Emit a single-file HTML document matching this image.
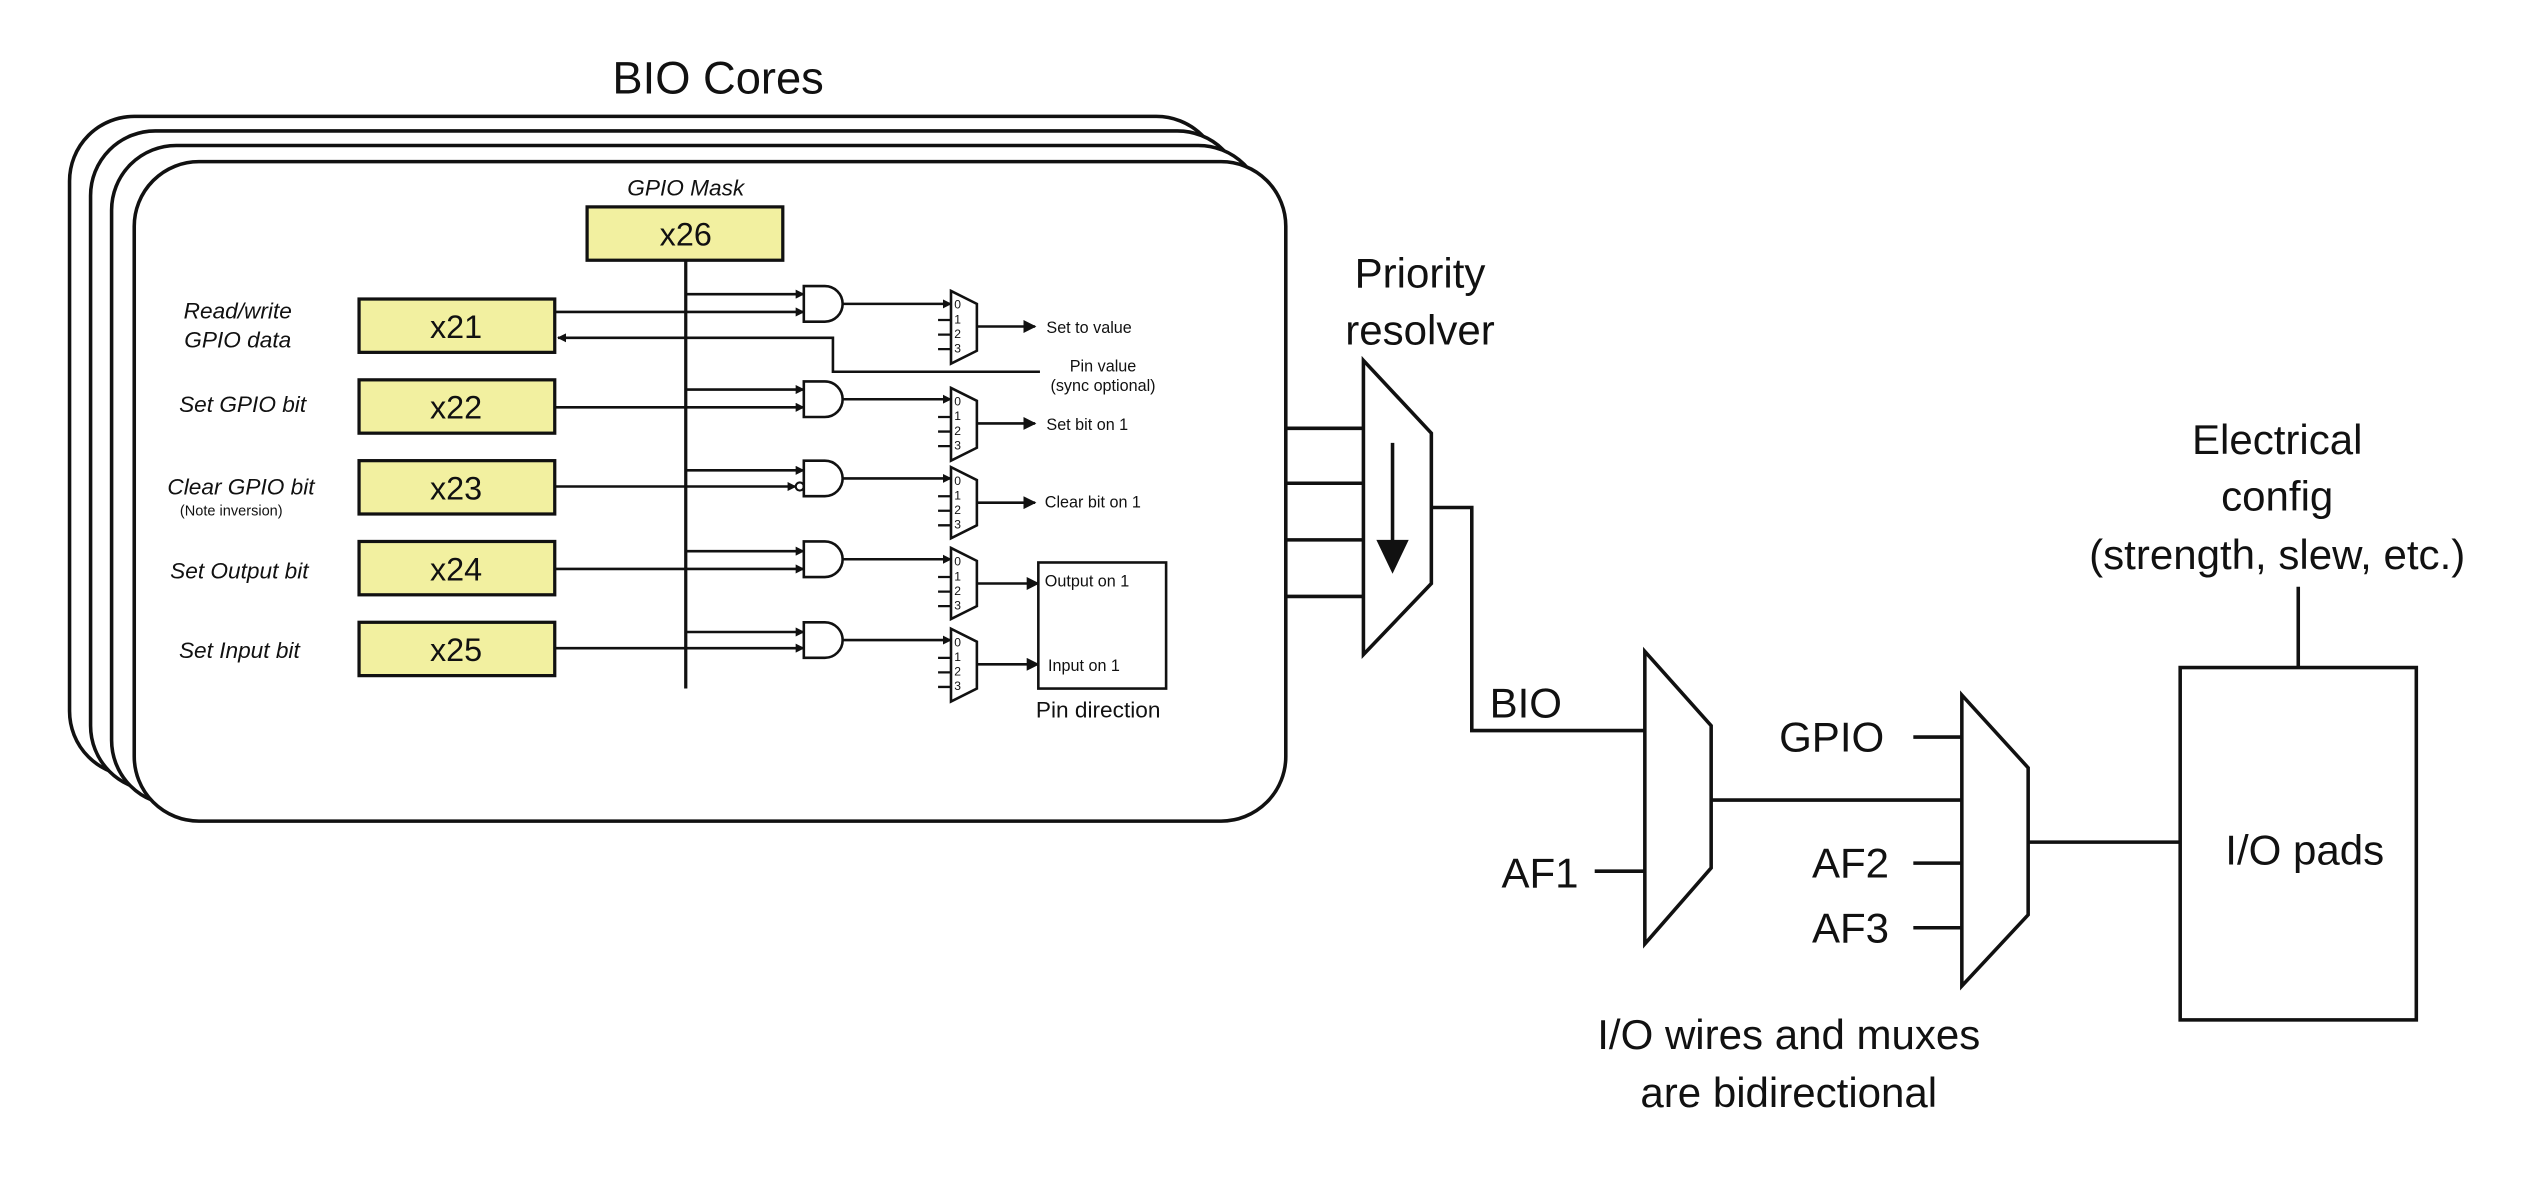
<!DOCTYPE html>
<html><head><meta charset="utf-8"><style>
html,body{margin:0;padding:0;background:#fff;}
svg{display:block;}
text{font-family:"Liberation Sans",sans-serif;fill:#111;}
.it{font-style:italic;}
</style></head><body>
<svg width="2536" height="1188" viewBox="0 0 1568 735" preserveAspectRatio="none">
<defs>
<marker id="a" viewBox="0 0 10 10" refX="9" refY="5" markerWidth="5" markerHeight="5" orient="auto"><path d="M0,0 L10,5 L0,10 z" fill="#111"/></marker>
<marker id="s" viewBox="0 0 10 10" refX="9" refY="5" markerWidth="3.5" markerHeight="3.5" orient="auto"><path d="M0,0 L10,5 L0,10 z" fill="#111"/></marker>
</defs>
<g fill="#fff" stroke="#111" stroke-width="2.2">
<rect x="43" y="72" width="712" height="408" rx="40"/>
<rect x="56" y="81" width="712" height="408" rx="40"/>
<rect x="69" y="90" width="712" height="408" rx="40"/>
<rect x="83" y="100" width="712" height="408" rx="40"/>
</g>
<text x="444" y="58" font-size="28" text-anchor="middle">BIO Cores</text>
<text x="424" y="121" font-size="14" class="it" text-anchor="middle">GPIO Mask</text>
<g fill="#f2f0a0" stroke="#111" stroke-width="2">
<rect x="363" y="128" width="121" height="33"/>
<rect x="222" y="185" width="121" height="33"/>
<rect x="222" y="235" width="121" height="33"/>
<rect x="222" y="285" width="121" height="33"/>
<rect x="222" y="335" width="121" height="33"/>
<rect x="222" y="385" width="121" height="33"/>
</g>
<g font-size="20" text-anchor="middle">
<text x="424" y="152">x26</text>
<text x="282" y="209">x21</text>
<text x="282" y="259">x22</text>
<text x="282" y="309">x23</text>
<text x="282" y="359">x24</text>
<text x="282" y="409">x25</text>
</g>
<g font-size="14" class="it" text-anchor="middle">
<text x="147" y="197">Read/write</text>
<text x="147" y="215">GPIO data</text>
<text x="150" y="255">Set GPIO bit</text>
<text x="149" y="306">Clear GPIO bit</text>
<text x="148" y="358">Set Output bit</text>
<text x="148" y="407">Set Input bit</text>
</g>
<text x="143" y="319" font-size="9" text-anchor="middle">(Note inversion)</text>
<line x1="424" y1="161" x2="424" y2="426" stroke="#111" stroke-width="2"/>
<g stroke="#111" stroke-width="1.6" fill="none">
<!-- row lines -->
<line x1="424" y1="182" x2="497" y2="182" marker-end="url(#s)"/>
<line x1="343" y1="193" x2="497" y2="193" marker-end="url(#s)"/>
<polyline points="643,230 515,230 515,209 345,209" marker-end="url(#s)"/>
<line x1="424" y1="241" x2="497" y2="241" marker-end="url(#s)"/>
<line x1="343" y1="252" x2="497" y2="252" marker-end="url(#s)"/>
<line x1="424" y1="291" x2="497" y2="291" marker-end="url(#s)"/>
<line x1="343" y1="301" x2="492" y2="301" marker-end="url(#s)"/>
<line x1="424" y1="341" x2="497" y2="341" marker-end="url(#s)"/>
<line x1="343" y1="352" x2="497" y2="352" marker-end="url(#s)"/>
<line x1="424" y1="391" x2="497" y2="391" marker-end="url(#s)"/>
<line x1="343" y1="401" x2="497" y2="401" marker-end="url(#s)"/>
</g>
<circle cx="494.5" cy="301" r="2.5" fill="#fff" stroke="#111" stroke-width="1.3"/>
<!-- AND gates + muxes -->
<g stroke="#111" stroke-width="1.6" fill="#fff">
<path d="M497,177 h13 a11,11 0 0 1 0,22 h-13 z"/>
<path d="M497,236 h13 a11,11 0 0 1 0,22 h-13 z"/>
<path d="M497,285 h13 a11,11 0 0 1 0,22 h-13 z"/>
<path d="M497,335 h13 a11,11 0 0 1 0,22 h-13 z"/>
<path d="M497,385 h13 a11,11 0 0 1 0,22 h-13 z"/>
</g>
<g stroke="#111" stroke-width="1.6" fill="none">
<line x1="521" y1="188" x2="588" y2="188" marker-end="url(#s)"/>
<line x1="521" y1="247" x2="588" y2="247" marker-end="url(#s)"/>
<line x1="521" y1="296" x2="588" y2="296" marker-end="url(#s)"/>
<line x1="521" y1="346" x2="588" y2="346" marker-end="url(#s)"/>
<line x1="521" y1="396" x2="588" y2="396" marker-end="url(#s)"/>
</g>
<g stroke="#111" stroke-width="1.6" fill="#fff">
<path d="M588,180 L604,188 L604,217 L588,225 z"/>
<path d="M588,240 L604,248 L604,277 L588,285 z"/>
<path d="M588,289 L604,297 L604,325 L588,333 z"/>
<path d="M588,339 L604,347 L604,375 L588,383 z"/>
<path d="M588,389 L604,397 L604,426 L588,434 z"/>
</g>
<g stroke="#111" stroke-width="1.4">
<path d="M580,198h8M580,207h8M580,216h8"/>
<path d="M580,258h8M580,267h8M580,276h8"/>
<path d="M580,307h8M580,316h8M580,325h8"/>
<path d="M580,357h8M580,366h8M580,375h8"/>
<path d="M580,407h8M580,416h8M580,425h8"/>
</g>
<g font-size="7.5">
<text x="590" y="191">0</text><text x="590" y="200">1</text><text x="590" y="209">2</text><text x="590" y="218">3</text>
<text x="590" y="251">0</text><text x="590" y="260">1</text><text x="590" y="269">2</text><text x="590" y="278">3</text>
<text x="590" y="300">0</text><text x="590" y="309">1</text><text x="590" y="318">2</text><text x="590" y="327">3</text>
<text x="590" y="350">0</text><text x="590" y="359">1</text><text x="590" y="368">2</text><text x="590" y="377">3</text>
<text x="590" y="400">0</text><text x="590" y="409">1</text><text x="590" y="418">2</text><text x="590" y="427">3</text>
</g>
<g stroke="#111" stroke-width="1.6" fill="none">
<line x1="604" y1="202" x2="640" y2="202" marker-end="url(#a)"/>
<line x1="604" y1="262" x2="640" y2="262" marker-end="url(#a)"/>
<line x1="604" y1="311" x2="640" y2="311" marker-end="url(#a)"/>
<line x1="604" y1="361" x2="642" y2="361" marker-end="url(#a)"/>
<line x1="604" y1="411" x2="642" y2="411" marker-end="url(#a)"/>
<rect x="642" y="348" width="79" height="78"/>
</g>
<g font-size="10">
<text x="647" y="206">Set to value</text>
<text x="682" y="230" text-anchor="middle">Pin value</text>
<text x="682" y="242" text-anchor="middle">(sync optional)</text>
<text x="647" y="266">Set bit on 1</text>
<text x="646" y="314">Clear bit on 1</text>
<text x="646" y="363">Output on 1</text>
<text x="648" y="415">Input on 1</text>
</g>
<text x="679" y="444" font-size="14" text-anchor="middle">Pin direction</text>
<!-- right side -->
<g stroke="#111" stroke-width="2.2" fill="none">
<path d="M795,265h48M795,299h48M795,334h48M795,369h48"/>
<path d="M843,223 L885,268 L885,361 L843,405 z" fill="#fff"/>
<polyline points="885,314 910,314 910,452 1017,452"/>
<path d="M1017,403 L1058,449 L1058,537 L1017,584 z"/>
<line x1="986" y1="539" x2="1017" y2="539"/>
<line x1="1058" y1="495" x2="1213" y2="495"/>
<path d="M1213,430 L1254,475 L1254,566 L1213,610 z"/>
<path d="M1183,456h30M1183,534h30M1183,574h30"/>
<line x1="1254" y1="521" x2="1348" y2="521"/>
<rect x="1348" y="413" width="146" height="218"/>
<line x1="1421" y1="363" x2="1421" y2="413"/>
<line x1="861" y1="274" x2="861" y2="338"/>
</g>
<path d="M851,334 L871,334 L861,355 z" fill="#111"/>
<g font-size="26" text-anchor="middle">
<text x="878" y="178">Priority</text>
<text x="878" y="213">resolver</text>
<text x="1408" y="281">Electrical</text>
<text x="1408" y="316">config</text>
<text x="1408" y="352">(strength, slew, etc.)</text>
<text x="1106" y="649">I/O wires and muxes</text>
<text x="1106" y="685">are bidirectional</text>
<text x="1425" y="535">I/O pads</text>
</g>
<g font-size="26">
<text x="921" y="444">BIO</text>
<text x="976" y="549" text-anchor="end">AF1</text>
<text x="1165" y="465" text-anchor="end">GPIO</text>
<text x="1168" y="543" text-anchor="end">AF2</text>
<text x="1168" y="583" text-anchor="end">AF3</text>
</g>
</svg>
</body></html>
